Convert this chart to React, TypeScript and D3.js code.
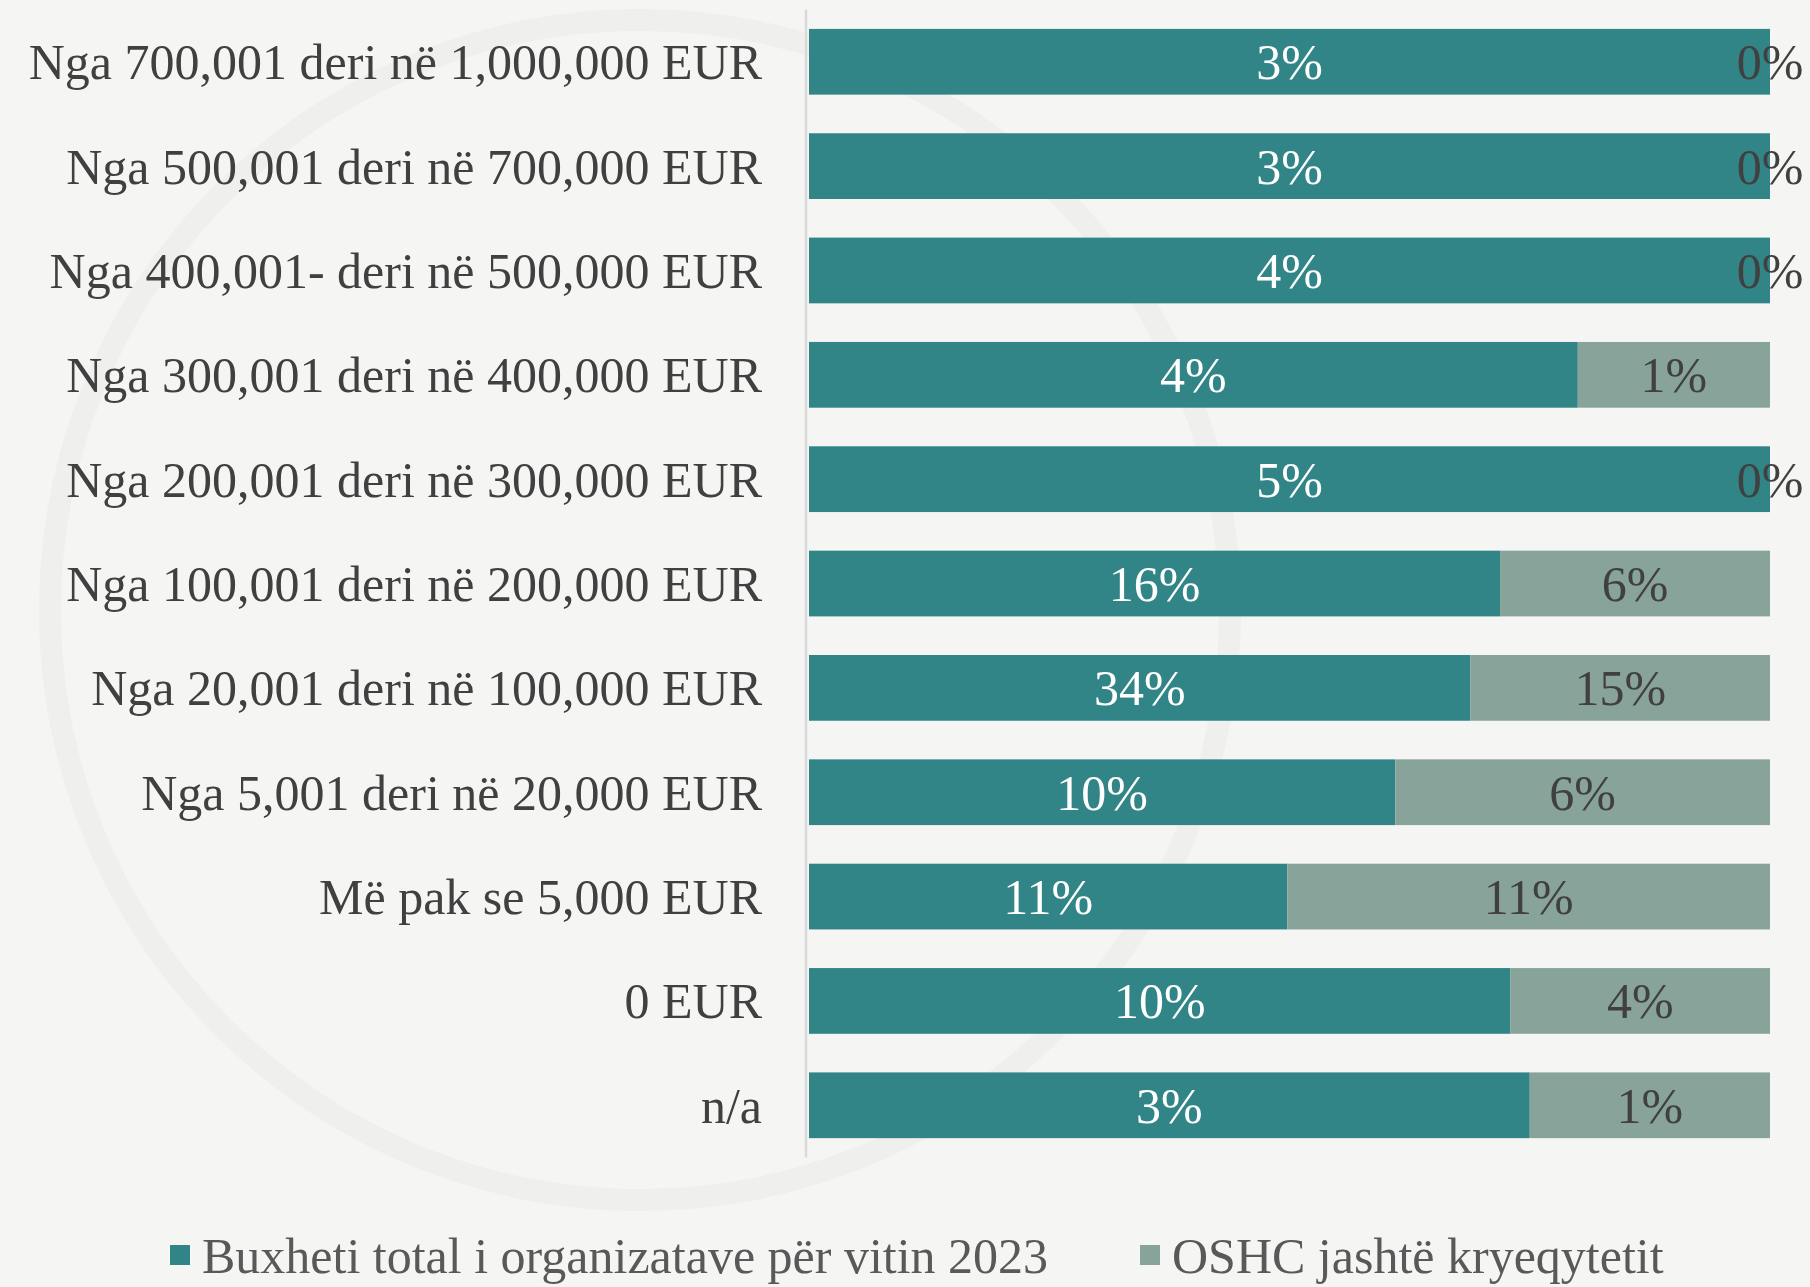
import { useRef, useEffect } from 'react';
import * as d3 from 'd3';

const categories = [
    'Nga 700,001 deri në 1,000,000 EUR',
    'Nga 500,001 deri në 700,000 EUR',
    'Nga 400,001- deri në 500,000 EUR',
    'Nga 300,001 deri në 400,000 EUR',
    'Nga 200,001 deri në 300,000 EUR',
    'Nga 100,001 deri në 200,000 EUR',
    'Nga 20,001 deri në 100,000 EUR',
    'Nga 5,001 deri në 20,000 EUR',
    'Më pak se 5,000 EUR',
    '0 EUR',
    'n/a',
];

// shares in percent (labels are rounded)
const budgetTotal = [3, 3, 4, 4, 5, 16, 34, 9.7, 11, 10, 3];
const outsideCapital = [0, 0, 0, 1, 0, 6.25, 15.4, 6.2, 11.1, 3.7, 1];

const seriesNames = ['Buxheti total i organizatave për vitin 2023', 'OSHC jashtë kryeqytetit'];
const seriesColors = ['#318587', '#88a39a'];

export default function App() {
    const ref = useRef<SVGSVGElement>(null);

    useEffect(() => {
        if (!ref.current) return;
        const svg = d3.select(ref.current);
        svg.selectAll('*').remove();

        const width = 1810;
        const height = 1287;
        const font = '"Liberation Serif", "Times New Roman", serif';
        const fs = 50;

        svg.append('rect').attr('width', width).attr('height', height).attr('fill', '#f5f6f4');
        // faint watermark ring
        svg.append('circle')
            .attr('cx', 640).attr('cy', 610).attr('r', 590)
            .attr('fill', 'none').attr('stroke', '#efefed').attr('stroke-width', 22);

        const x0 = 809;
        const x1 = 1770;

        const data = categories.map((c, i) => {
            const a = budgetTotal[i];
            const b = outsideCapital[i];
            return { cat: c, a, b, total: a + b };
        });

        const y = d3.scaleBand<string>()
            .domain(categories)
            .range([9.6, 9.6 + 11 * 104.35])
            .paddingInner(0.37)
            .paddingOuter(0.185);

        const x = d3.scaleLinear().domain([0, 1]).range([x0, x1]);

        // axis line
        svg.append('line')
            .attr('x1', 806).attr('x2', 806)
            .attr('y1', 9.6).attr('y2', 9.6 + 11 * 104.35)
            .attr('stroke', '#d9d9d9').attr('stroke-width', 2.5);

        // category labels
        svg.append('g')
            .selectAll('text')
            .data(data)
            .enter()
            .append('text')
            .attr('x', 762)
            .attr('y', d => y(d.cat)! + y.bandwidth() / 2)
            .attr('dy', '0.35em')
            .attr('text-anchor', 'end')
            .attr('font-family', font)
            .attr('font-size', fs)
            .attr('fill', '#404040')
            .text(d => d.cat);

        const rows = svg.append('g').selectAll('g').data(data).enter().append('g');

        rows.append('rect')
            .attr('x', x(0))
            .attr('y', d => y(d.cat)!)
            .attr('width', d => x(d.a / d.total) - x(0))
            .attr('height', y.bandwidth())
            .attr('fill', seriesColors[0]);

        rows.append('rect')
            .attr('x', d => x(d.a / d.total))
            .attr('y', d => y(d.cat)!)
            .attr('width', d => x(1) - x(d.a / d.total))
            .attr('height', y.bandwidth())
            .attr('fill', seriesColors[1]);

        rows.append('text')
            .attr('x', d => (x(0) + x(d.a / d.total)) / 2)
            .attr('y', d => y(d.cat)! + y.bandwidth() / 2)
            .attr('dy', '0.35em')
            .attr('text-anchor', 'middle')
            .attr('font-family', font)
            .attr('font-size', fs)
            .attr('fill', '#ffffff')
            .text(d => `${Math.round(d.a)}%`);

        rows.append('text')
            .attr('x', d => (x(d.a / d.total) + x(1)) / 2)
            .attr('y', d => y(d.cat)! + y.bandwidth() / 2)
            .attr('dy', '0.35em')
            .attr('text-anchor', 'middle')
            .attr('font-family', font)
            .attr('font-size', fs)
            .attr('fill', '#404040')
            .text(d => `${Math.round(d.b)}%`);

        // legend
        const legendItems = [
            { name: seriesNames[0], color: seriesColors[0], x: 170 },
            { name: seriesNames[1], color: seriesColors[1], x: 1140 },
        ];
        const lg = svg.append('g').selectAll('g').data(legendItems).enter().append('g');
        lg.append('rect')
            .attr('x', d => d.x)
            .attr('y', 1245)
            .attr('width', 20)
            .attr('height', 20)
            .attr('fill', d => d.color);
        lg.append('text')
            .attr('x', d => d.x + 32)
            .attr('y', 1255)
            .attr('dy', '0.35em')
            .attr('font-family', font)
            .attr('font-size', fs)
            .attr('fill', '#595959')
            .text(d => d.name);
    }, []);

    return (
        <svg
            ref={ref}
            width={1810}
            height={1287}
            style={{ position: 'absolute', left: 0, top: 0 }}
        ></svg>
    );
}
